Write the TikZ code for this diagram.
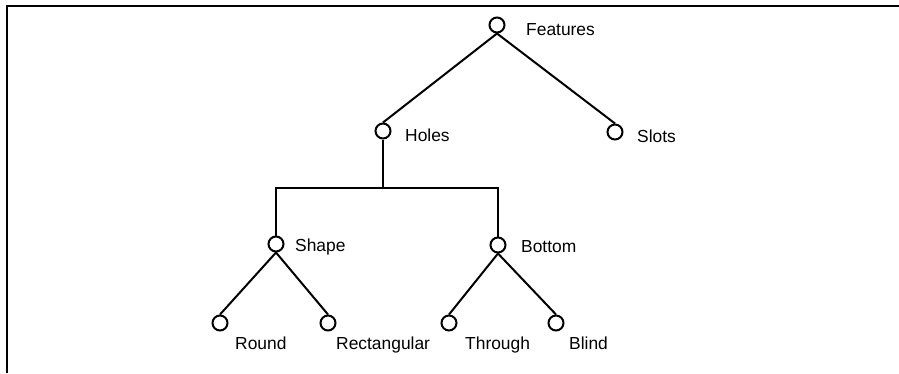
\documentclass[tikz,border=0pt]{standalone}
\usepackage{fontspec}
\setmainfont{Liberation Sans}
\begin{document}
\begin{tikzpicture}[x=1pt,y=-1pt,
  knot/.style={circle,draw,line width=2pt,minimum size=15pt,inner sep=0pt},
  lbl/.style={anchor=base west,inner sep=0pt,font=\fontsize{17.4}{20}\selectfont},
  edge/.style={line width=2pt},
  frameline/.style={line width=2.4pt}]
\useasboundingbox (0,0) rectangle (899,373);
% frame
\coordinate (fl) at (7,373);
\coordinate (fc) at (7,6);
\coordinate (fr) at (899,6);
\draw[frameline] (fl) -- (fc) -- (fr);
% nodes
\node[knot] (features) at (497,25) {};
\node[knot] (holes) at (383,131) {};
\node[knot] (slots) at (615,132) {};
\node[knot] (shape) at (276,244) {};
\node[knot] (bottom) at (498,245) {};
\node[knot] (round) at (220,323) {};
\node[knot] (rect) at (328,323) {};
\node[knot] (through) at (449,323) {};
\node[knot] (blind) at (556,323) {};
% labels
\node[lbl] (lfeatures) at (526,35) {Features};
\node[lbl] (lholes) at (405,141) {Holes};
\node[lbl] (lslots) at (637,142) {Slots};
\node[lbl] (lshape) at (295,251) {Shape};
\node[lbl] (lbottom) at (521,252) {Bottom};
\node[lbl] (lround) at (235,349) {Round};
\node[lbl] (lrect) at (336,349) {Rectangular};
\node[lbl] (lthrough) at (465,349) {Through};
\node[lbl] (lblind) at (569,349) {Blind};
% connectors
\coordinate (hj) at (383,188);
\draw[edge] (features.south) -- (holes.north);
\draw[edge] (features.south) -- (slots.north);
\draw[edge] (holes.south) -- (hj);
\draw[edge] (shape.north) |- (hj) -| (bottom.north);
\draw[edge] (shape.south) -- (round.north);
\draw[edge] (shape.south) -- (rect.north);
\draw[edge] (bottom.south) -- (through.north);
\draw[edge] (bottom.south) -- (blind.north);
\end{tikzpicture}
\end{document}
